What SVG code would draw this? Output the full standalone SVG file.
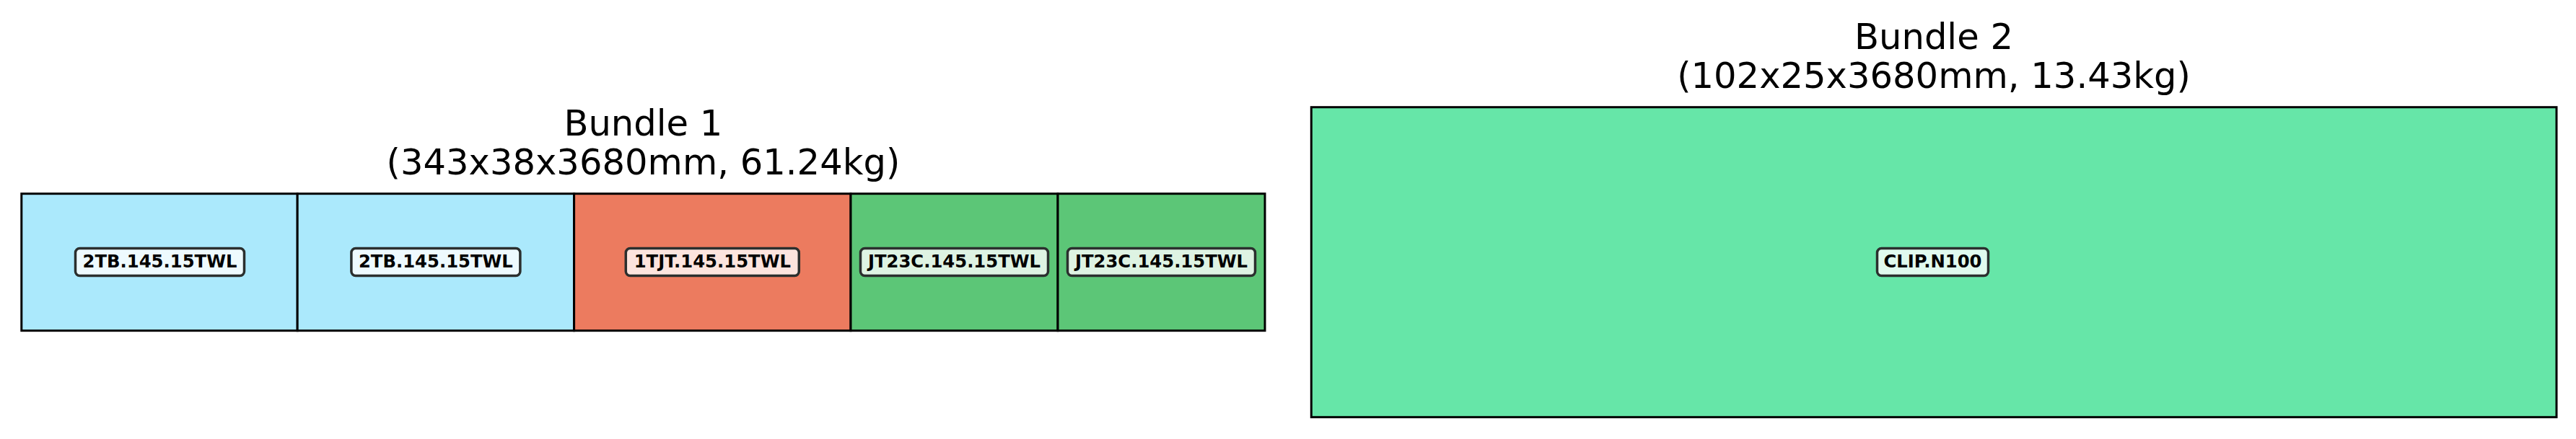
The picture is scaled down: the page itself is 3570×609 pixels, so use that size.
<svg xmlns="http://www.w3.org/2000/svg" width="3570" height="609" viewBox="0 0 3570 609">
<style>
.cell{stroke:#000;stroke-width:3}
.title{font-family:"DejaVu Sans",sans-serif;font-size:49.6px;fill:#000;text-anchor:middle}
.lbox{stroke:#2b2f2e;stroke-width:3.5}
.ltxt{font-family:"DejaVu Sans",sans-serif;font-weight:bold;font-size:24.3px;fill:#000;text-anchor:middle}
</style>
<rect width="3570" height="609" fill="#fff"/>
<g id="bundle1">
<text class="title" x="891.4" y="188.3">Bundle 1</text>
<text class="title" x="891.4" y="241.7">(343x38x3680mm, 61.24kg)</text>
</g>
<g id="n1">
<rect class="cell" x="29.8" y="268.7" width="382.4" height="190" fill="#abe9fc"/>
<rect class="lbox" x="104.5" y="344.5" width="234" height="38" rx="6" fill="#eefafe"/>
<text class="ltxt" x="221.5" y="370.5">2TB.145.15TWL</text>
</g>
<g id="n2">
<rect class="cell" x="412.2" y="268.7" width="383.4" height="190" fill="#abe9fc"/>
<rect class="lbox" x="486.9" y="344.5" width="234" height="38" rx="6" fill="#eefafe"/>
<text class="ltxt" x="603.9" y="370.5">2TB.145.15TWL</text>
</g>
<g id="n3">
<rect class="cell" x="795.6" y="268.7" width="383.4" height="190" fill="#ec7b5f"/>
<rect class="lbox" x="867.3" y="344.5" width="240" height="38" rx="6" fill="#fce4de"/>
<text class="ltxt" x="987.3" y="370.5">1TJT.145.15TWL</text>
</g>
<g id="n4">
<rect class="cell" x="1179" y="268.7" width="287" height="190" fill="#5cc677"/>
<rect class="lbox" x="1192.5" y="344.5" width="260" height="38" rx="6" fill="#def3e3"/>
<text class="ltxt" x="1322.5" y="370.5">JT23C.145.15TWL</text>
</g>
<g id="n5">
<rect class="cell" x="1466" y="268.7" width="287" height="190" fill="#5cc677"/>
<rect class="lbox" x="1479.5" y="344.5" width="260" height="38" rx="6" fill="#def3e3"/>
<text class="ltxt" x="1609.5" y="370.5">JT23C.145.15TWL</text>
</g>
<g id="bundle2">
<text class="title" x="2680" y="68.3">Bundle 2</text>
<text class="title" x="2680" y="121.7">(102x25x3680mm, 13.43kg)</text>
</g>
<g id="n6">
<rect class="cell" x="1817.3" y="148.7" width="1725.7" height="430" fill="#66e6a8"/>
<rect class="lbox" x="2601.5" y="344.5" width="154" height="38" rx="6" fill="#e0faee"/>
<text class="ltxt" x="2678.5" y="370.5">CLIP.N100</text>
</g>
<g id="connectors"></g>
</svg>
